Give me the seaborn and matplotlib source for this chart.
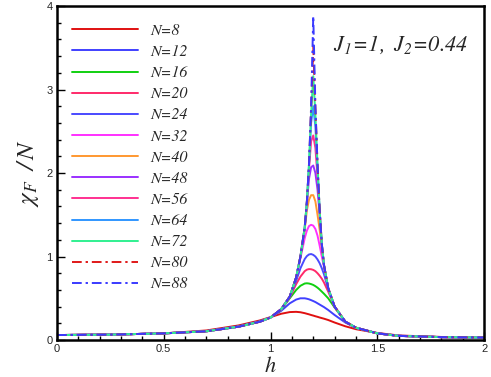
import numpy as np
import pandas as pd
import matplotlib
matplotlib.use("Agg")
import matplotlib.pyplot as plt
from matplotlib.ticker import MultipleLocator
import seaborn as sns

# ---- data -------------------------------------------------------------
H = [0, 0.25, 0.5, 0.7, 0.85, 0.95, 1.0, 1.05, 1.09, 1.12, 1.14, 1.16, 1.17, 1.18,
     1.19, 1.2, 1.21, 1.22, 1.23, 1.24, 1.25, 1.27, 1.3, 1.35, 1.4, 1.5, 1.6, 1.8, 2.0]

sizes = [8, 12, 16, 20, 24, 32, 40, 48, 56, 64, 72, 80, 88]

chi_N8  = [0.06, 0.065, 0.08, 0.115, 0.175, 0.235, 0.275, 0.315, 0.335, 0.338, 0.333, 0.322, 0.315, 0.308,
           0.300, 0.293, 0.285, 0.278, 0.270, 0.263, 0.256, 0.240, 0.210, 0.165, 0.130, 0.085, 0.055, 0.037, 0.03]
chi_N12 = [0.06, 0.065, 0.08, 0.108, 0.165, 0.225, 0.27, 0.35, 0.44, 0.485, 0.50, 0.50, 0.495, 0.488,
           0.478, 0.467, 0.455, 0.44, 0.425, 0.41, 0.395, 0.36, 0.30, 0.21, 0.145, 0.082, 0.052, 0.036, 0.03]
chi_N16 = [0.06, 0.065, 0.08, 0.106, 0.162, 0.222, 0.27, 0.365, 0.50, 0.60, 0.65, 0.677, 0.68, 0.677,
           0.67, 0.66, 0.645, 0.627, 0.605, 0.58, 0.555, 0.50, 0.39, 0.22, 0.148, 0.08, 0.05, 0.035, 0.03]
chi_N20 = [0.06, 0.065, 0.08, 0.105, 0.16, 0.22, 0.27, 0.37, 0.51, 0.67, 0.76, 0.825, 0.843, 0.85,
           0.848, 0.84, 0.825, 0.80, 0.77, 0.735, 0.69, 0.58, 0.40, 0.22, 0.148, 0.08, 0.05, 0.035, 0.03]
chi_N24 = [0.06, 0.065, 0.08, 0.105, 0.16, 0.22, 0.27, 0.37, 0.52, 0.71, 0.86, 0.97, 1.005, 1.025,
           1.03, 1.02, 1.0, 0.965, 0.92, 0.86, 0.79, 0.61, 0.40, 0.22, 0.148, 0.08, 0.05, 0.035, 0.03]
chi_N32 = [0.06, 0.065, 0.08, 0.105, 0.16, 0.22, 0.27, 0.37, 0.52, 0.75, 0.98, 1.22, 1.31, 1.365,
           1.38, 1.37, 1.33, 1.25, 1.13, 1.0, 0.88, 0.62, 0.40, 0.22, 0.148, 0.08, 0.05, 0.035, 0.03]
chi_N40 = [0.06, 0.065, 0.08, 0.105, 0.16, 0.22, 0.27, 0.37, 0.52, 0.75, 1.0, 1.32, 1.55, 1.68,
           1.735, 1.735, 1.66, 1.5, 1.32, 1.1, 0.9, 0.62, 0.40, 0.22, 0.148, 0.08, 0.05, 0.035, 0.03]
chi_N48 = [0.06, 0.065, 0.08, 0.105, 0.16, 0.22, 0.27, 0.37, 0.52, 0.75, 1.0, 1.34, 1.63, 1.93,
           2.07, 2.09, 2.0, 1.8, 1.5, 1.14, 0.9, 0.62, 0.40, 0.22, 0.148, 0.08, 0.05, 0.035, 0.03]
chi_N56 = [0.06, 0.065, 0.08, 0.105, 0.16, 0.22, 0.27, 0.37, 0.52, 0.75, 1.0, 1.35, 1.65, 2.05,
           2.38, 2.45, 2.3, 1.95, 1.55, 1.15, 0.9, 0.62, 0.40, 0.22, 0.148, 0.08, 0.05, 0.035, 0.03]
chi_N64 = [0.06, 0.065, 0.08, 0.105, 0.16, 0.22, 0.27, 0.37, 0.52, 0.75, 1.0, 1.35, 1.65, 2.1,
           2.6, 2.80, 2.55, 2.05, 1.55, 1.15, 0.9, 0.62, 0.40, 0.22, 0.148, 0.08, 0.05, 0.035, 0.03]
chi_N72 = [0.06, 0.065, 0.08, 0.105, 0.16, 0.22, 0.27, 0.37, 0.52, 0.75, 1.0, 1.35, 1.65, 2.1,
           2.72, 3.16, 2.7, 2.1, 1.55, 1.15, 0.9, 0.62, 0.40, 0.22, 0.148, 0.08, 0.05, 0.035, 0.03]
chi_N80 = [0.06, 0.065, 0.08, 0.105, 0.16, 0.22, 0.27, 0.37, 0.52, 0.75, 1.0, 1.35, 1.65, 2.1,
           2.78, 3.52, 2.78, 2.1, 1.55, 1.15, 0.9, 0.62, 0.40, 0.22, 0.148, 0.08, 0.05, 0.035, 0.03]
chi_N88 = [0.06, 0.065, 0.08, 0.105, 0.16, 0.22, 0.27, 0.37, 0.52, 0.75, 1.0, 1.35, 1.65, 2.1,
           2.8, 3.88, 2.8, 2.1, 1.55, 1.15, 0.9, 0.62, 0.40, 0.22, 0.148, 0.08, 0.05, 0.035, 0.03]

series = [chi_N8, chi_N12, chi_N16, chi_N20, chi_N24, chi_N32, chi_N40,
          chi_N48, chi_N56, chi_N64, chi_N72, chi_N80, chi_N88]

colors = ["#e01010", "#4040ff", "#10d010", "#ff2a6a", "#4a4aff", "#ff30ff", "#ff9830",
          "#9a30ff", "#ff3090", "#3096ff", "#30f090", "#e01818", "#3a3aff"]
styles = ["-"] * 11 + [(0, (5, 2, 1.2, 2)), (0, (5, 2, 1.2, 2))]

x_ticks = [0, 0.5, 1, 1.5, 2]
y_ticks = [0, 1, 2, 3, 4]

# ---- style ------------------------------------------------------------
sns.set_style("ticks")
plt.rcParams["font.family"] = ["Liberation Sans", "DejaVu Sans"]
plt.rcParams["mathtext.fontset"] = "custom"
plt.rcParams["mathtext.it"] = "STIXGeneral:italic"
plt.rcParams["mathtext.rm"] = "STIXGeneral:italic"

fig = plt.figure(figsize=(4.91, 3.77), dpi=100)
ax = fig.add_axes([0.116, 0.098, 0.870, 0.886])

for n, vals, c, ls in zip(sizes, series, colors, styles):
    df = pd.DataFrame({"h": H, "chi": vals})
    sns.lineplot(data=df, x="h", y="chi", color=c, linestyle=ls, lw=1.4,
                 label=f"N={n}", ax=ax, sort=False)

ax.set_xlim(0, 2)
ax.set_ylim(0, 4)
ax.set_xticks(x_ticks)
ax.set_xticklabels(["0", "0.5", "1", "1.5", "2"])
ax.set_yticks(y_ticks)
ax.xaxis.set_minor_locator(MultipleLocator(0.1))
ax.yaxis.set_minor_locator(MultipleLocator(0.2))
ax.tick_params(which="both", direction="in", top=False, right=False, labelsize=8,
               color="black", width=1.0)
ax.tick_params(which="major", length=6, pad=3)
ax.tick_params(which="minor", length=3)
for sp in ax.spines.values():
    sp.set_linewidth(1.8)
    sp.set_color("black")

ax.set_xlabel("$h$", fontsize=16, labelpad=1)
ax.set_ylabel(r"$\chi_{F}\ \ /\, N$", fontsize=18, labelpad=4)

ax.text(1.61, 3.53, r"$J_1\!=\!1,\ J_2\!=\!0.44$", fontsize=16, ha="center", va="center")

leg = ax.legend(loc="upper left", bbox_to_anchor=(0.021, 0.966), frameon=False,
                handlelength=4.1, handletextpad=0.8, labelspacing=0.435,
                prop={"family": "STIXGeneral", "style": "italic", "size": 11.5},
                borderaxespad=0.0)

fig.savefig("out.png", dpi=100)
